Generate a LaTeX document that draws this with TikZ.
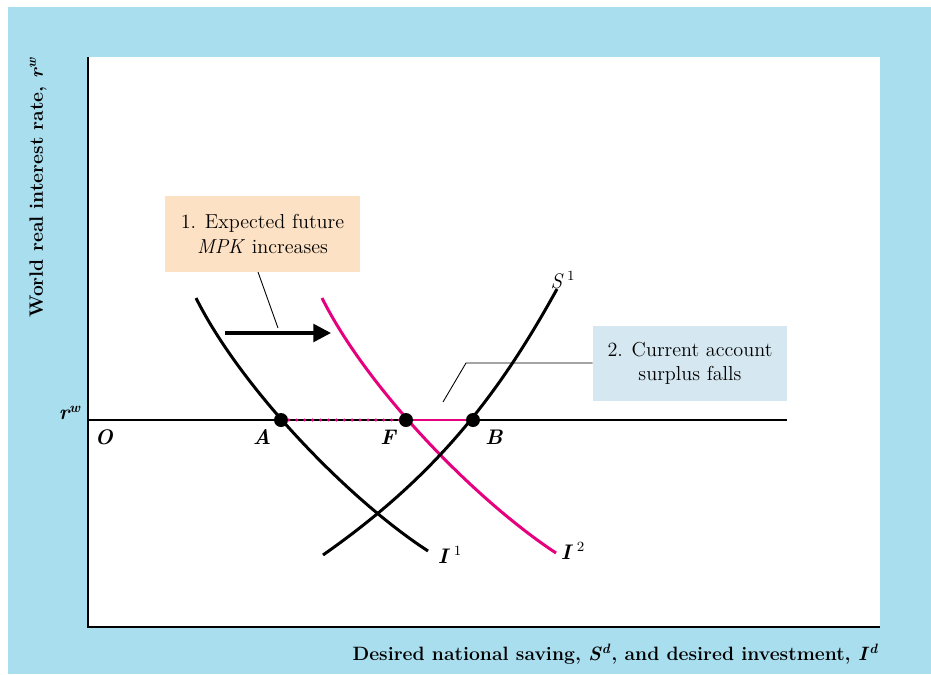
\documentclass[tikz,border=0pt]{standalone}
\usetikzlibrary{arrows.meta}
\definecolor{bgblue}{HTML}{A9DEEF}
\definecolor{mag}{HTML}{E6007E}
\definecolor{boxorange}{HTML}{FDE1C4}
\definecolor{boxblue}{HTML}{D5E8F1}
\newcommand{\bi}[1]{\textbf{\textit{#1}}}
\newcommand{\labfont}{\fontsize{11}{13}\selectfont}
\newcommand{\ptfont}{\fontsize{12}{14}\selectfont}
\newcommand{\boxfont}{\fontsize{11.5}{14}\selectfont}
\begin{document}
\begin{tikzpicture}[x=0.02cm,y=-0.02cm,
  curvestyle/.style={line width=1.7pt},
  dotnode/.style={circle,fill=black,inner sep=0pt,minimum size=0.28cm},
  ptlabel/.style={font=\ptfont\bfseries\itshape},
  callout/.style={inner sep=0pt,align=center,font=\boxfont},
  leader/.style={line width=0.5pt}]
\useasboundingbox (0,0) rectangle (931,674);
\fill[bgblue] (8,7) rectangle (931,674);
\fill[white] (88,57) rectangle (880,627);
\draw[line width=1.1pt] (88,57) -- (88,627) -- (880,627);

% axis labels
\node[anchor=east,font=\labfont\bfseries] (xlab) at (885,654) {Desired national saving, \bi{S}\textsuperscript{\bi{d}}, and desired investment, \bi{I}\textsuperscript{\bi{d}}};
\node[rotate=90,font=\labfont\bfseries] (ylab) at (38,187) {World real interest rate, \bi{r}\textsuperscript{\bi{w}}};

% world rate line
\coordinate (L) at (88,420);
\coordinate (R) at (787,420);
\draw[line width=1.3pt] (L) -- (R);

\coordinate (A) at (281,420);
\coordinate (F) at (406,420);
\coordinate (B) at (473,420);

\draw[mag,line width=1.9pt,dash pattern=on 0pt off 4.5pt,line cap=round] (A) -- (F);
\draw[mag,line width=1.2pt] (F) -- (B);

% curves
\draw[curvestyle] (196,298) .. controls (241,388) and (348,499) .. (428,551);
\draw[curvestyle,mag] (322,298) .. controls (367,388) and (474,499) .. (556,553);
\draw[curvestyle] (323,555) .. controls (433,478) and (496.5,399) .. (557,289);

\node[dotnode] (dA) at (A) {};
\node[dotnode] (dF) at (F) {};
\node[dotnode] (dB) at (B) {};

% labels
\node[ptlabel] (rw) at (70,413) {r\textsuperscript{w}};
\node[ptlabel] (O) at (104,437) {O};
\node[ptlabel] (lA) at (262,437) {A};
\node[ptlabel] (lF) at (388,437) {F};
\node[ptlabel] (lB) at (494,437) {B};
\node[font=\ptfont] (I1) at (450,555) {\bi{I}\,\textsuperscript{1}};
\node[font=\ptfont] (I2) at (573,551) {\bi{I}\,\textsuperscript{2}};
\node[font=\ptfont] (S1) at (563,280) {\textit{S}\,\textsuperscript{1}};

% shift arrow
\coordinate (arS) at (225,333);
\coordinate (arE) at (331,333);
\draw[line width=2pt,-{Triangle[length=10pt,width=10pt]}] (arS) -- (arE);

% callout 1
\node[fill=boxorange,minimum width=3.9cm,minimum height=1.52cm,callout] (box1) at (262.5,234) {1. Expected future\\\textit{MPK} increases};
\coordinate (c1) at (278,328);
\draw[leader] (258,272) -- (c1);

% callout 2
\node[fill=boxblue,minimum width=3.88cm,minimum height=1.5cm,callout] (box2) at (690,363.5) {2. Current account\\surplus falls};
\coordinate (c2a) at (466,363);
\coordinate (c2b) at (443,402);
\draw[leader] (box2.west |- c2a) -- (c2a) -- (c2b);
\end{tikzpicture}
\end{document}
